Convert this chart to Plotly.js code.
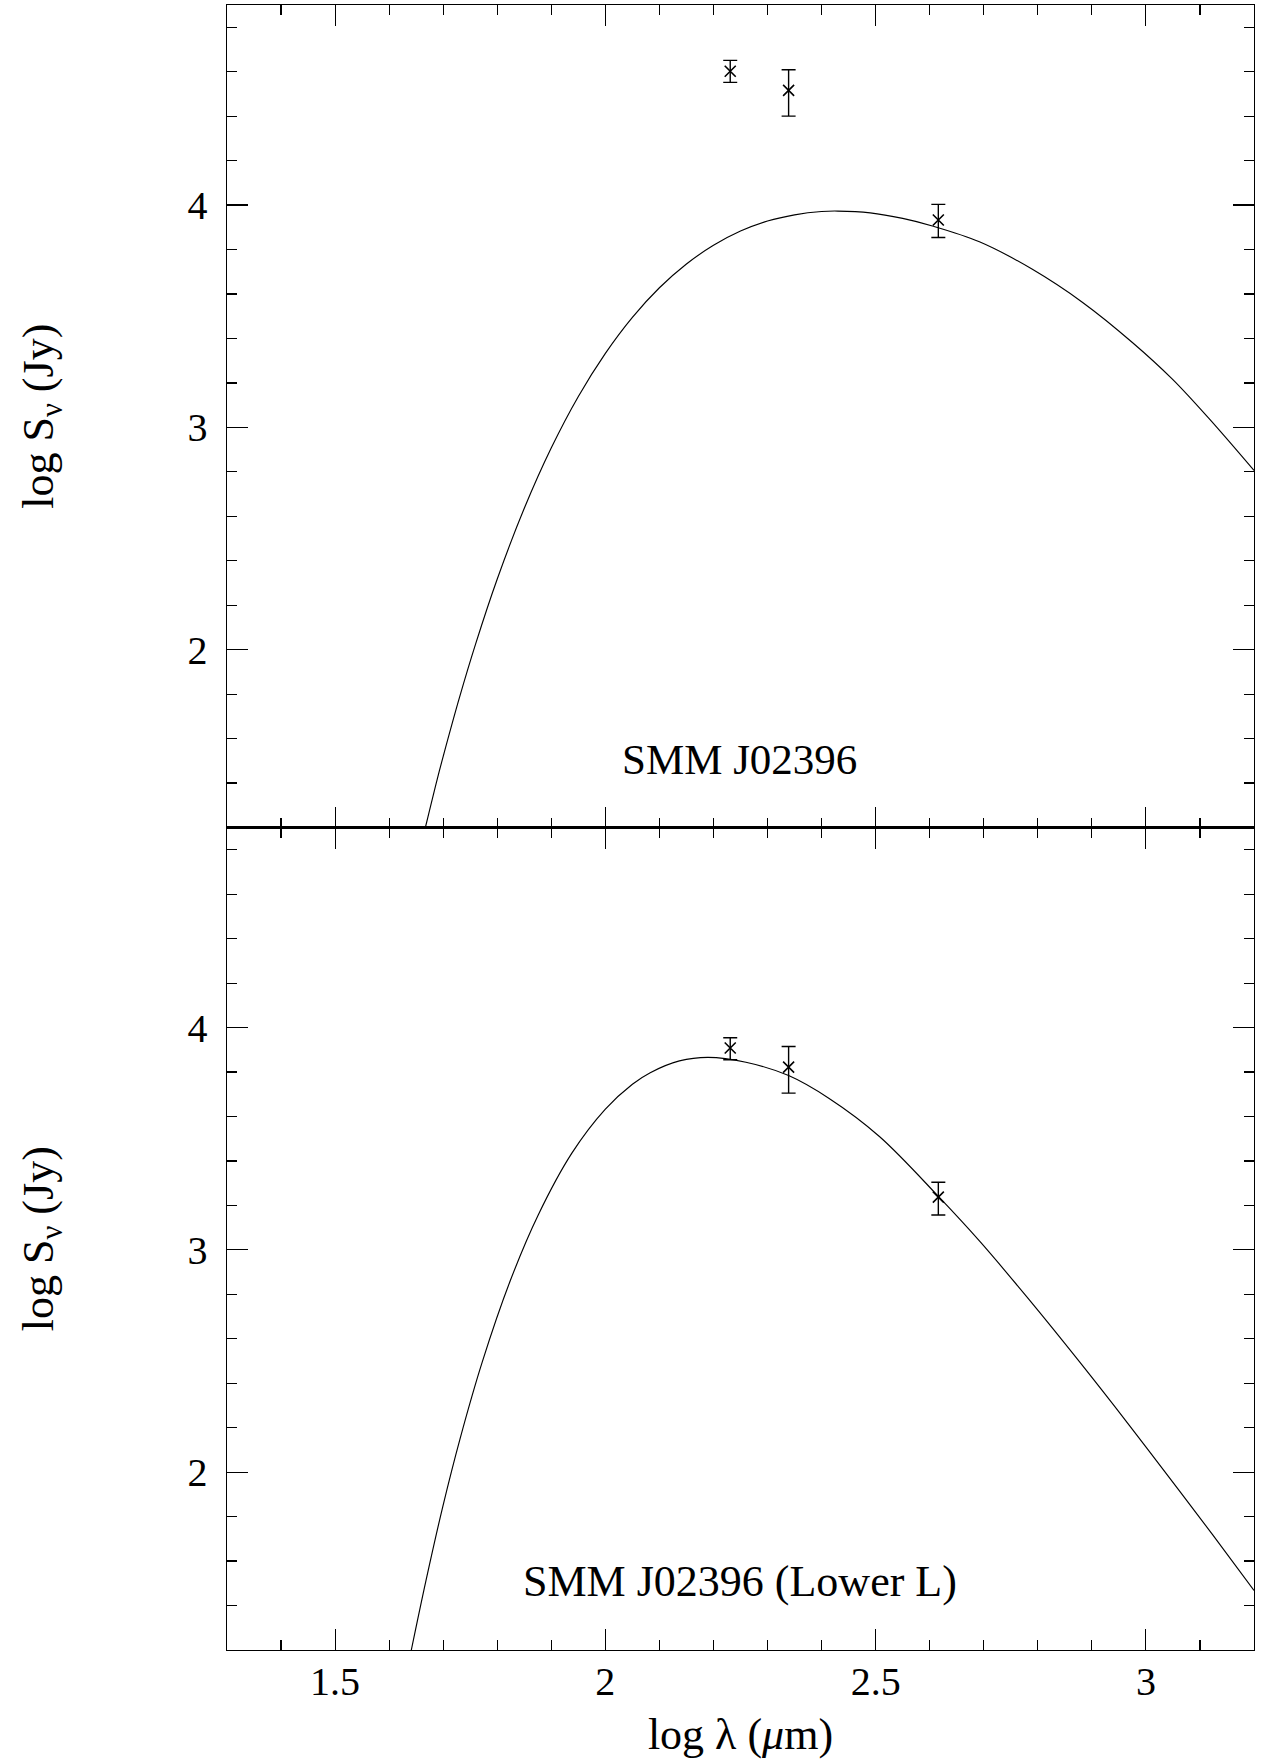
<!DOCTYPE html>
<html>
<head>
<meta charset="utf-8">
<script src="https://cdn.plot.ly/plotly-3.0.1.min.js"></script>
<style>
  html, body { margin: 0; padding: 0; background: #fff; }
  #chart { width: 1261px; height: 1759px; }
</style>
</head>
<body>
<div id="chart"></div>
<script>
// ---------- data ----------
// observed bands, log wavelength (um)
const bandLogLambda = [2.231, 2.339, 2.616];

// upper panel: SMM J02396
const upperFlux      = [4.602, 4.516, 3.933];
const upperErrPlus   = [0.049, 0.093, 0.070];
const upperErrMinus  = [0.050, 0.116, 0.079];
const upperModelX = [1.667, 1.689, 1.70, 1.73, 1.76, 1.80, 1.85, 1.90, 1.95, 2.00, 2.05, 2.10, 2.15, 2.20, 2.25, 2.30, 2.35, 2.40, 2.43, 2.49, 2.55, 2.605, 2.692, 2.79, 2.883, 2.975, 3.049, 3.117, 3.2];
const upperModelY = [1.20, 1.418, 1.52, 1.784, 2.026, 2.318, 2.636, 2.908, 3.139, 3.333, 3.495, 3.628, 3.735, 3.819, 3.883, 3.928, 3.956, 3.971, 3.973, 3.965, 3.94, 3.906, 3.835, 3.711, 3.562, 3.382, 3.217, 3.039, 2.806];

// lower panel: SMM J02396 (Lower L)
const lowerFlux      = [3.908, 3.822, 3.237];
const lowerErrPlus   = [0.046, 0.093, 0.067];
const lowerErrMinus  = [0.053, 0.117, 0.080];
const lowerModelX = [1.641, 1.668, 1.699, 1.731, 1.772, 1.824, 1.876, 1.938, 2.0, 2.05, 2.083, 2.137, 2.19, 2.26, 2.339, 2.414, 2.507, 2.617, 2.692, 2.784, 2.877, 2.969, 3.061, 3.123, 3.2];
const lowerModelY = [1.20, 1.511, 1.843, 2.149, 2.494, 2.861, 3.158, 3.435, 3.633, 3.745, 3.797, 3.850, 3.866, 3.844, 3.784, 3.681, 3.51, 3.238, 3.04, 2.776, 2.497, 2.212, 1.919, 1.720, 1.468];

const panelLabels = ['SMM J02396', 'SMM J02396 (Lower L)'];
const xTitle = 'log λ (<i>μ</i>m)';
const yTitle = 'log S<sub>ν</sub> (Jy)';

// ---------- styling ----------
const FONT = 'Liberation Serif, Times New Roman, serif';
const black = '#000';

function modelTrace(x, y, xa, ya) {
  return { x: x, y: y, xaxis: xa, yaxis: ya, type: 'scatter', mode: 'lines',
    line: { color: black, width: 1.15, shape: 'spline', smoothing: 1 }, hoverinfo: 'skip' };
}
function dataTrace(y, ep, em, xa, ya) {
  return { x: bandLogLambda, y: y, xaxis: xa, yaxis: ya, type: 'scatter', mode: 'markers',
    marker: { symbol: 'x-thin-open', size: 11, color: black, line: { color: black, width: 1.6 } },
    error_y: { type: 'data', symmetric: false, array: ep, arrayminus: em,
      color: black, thickness: 1.4, width: 7 } };
}

const traces = [
  modelTrace(upperModelX, upperModelY, 'x2', 'y2'),
  dataTrace(upperFlux, upperErrPlus, upperErrMinus, 'x2', 'y2'),
  modelTrace(lowerModelX, lowerModelY, 'x', 'y'),
  dataTrace(lowerFlux, lowerErrPlus, lowerErrMinus, 'x', 'y')
];

const common = {
  showline: true, linecolor: black, linewidth: 1.4, mirror: 'ticks',
  ticks: 'inside', ticklen: 21, tickwidth: 1.2, tickcolor: black,
  showgrid: false, zeroline: false,
  tickfont: { family: FONT, size: 40, color: black }
};
const xMinor = { ticks: 'inside', ticklen: 10, tickwidth: 1.2, tickcolor: black, dtick: 0.1, tick0: 0, showgrid: false };
const yMinor = { ticks: 'inside', ticklen: 10, tickwidth: 1.2, tickcolor: black, dtick: 0.2, tick0: 0, showgrid: false };

const layout = {
  width: 1261, height: 1759,
  margin: { l: 227, r: 7, t: 5, b: 109, pad: 0 },
  paper_bgcolor: '#fff', plot_bgcolor: '#fff',
  showlegend: false,
  font: { family: FONT, color: black },
  xaxis: Object.assign({}, common, {
    domain: [0, 1], anchor: 'y', range: [1.3, 3.2], tick0: 0, dtick: 0.5, minor: xMinor,
    ticklabelstandoff: -4,
    title: { text: xTitle, font: { family: FONT, size: 44, color: black }, standoff: 16 }
  }),
  xaxis2: Object.assign({}, common, {
    domain: [0, 1], anchor: 'y2', matches: 'x', range: [1.3, 3.2], tick0: 0, dtick: 0.5, minor: xMinor,
    showticklabels: false
  }),
  yaxis: Object.assign({}, common, {
    domain: [0, 0.5], anchor: 'x', range: [1.2, 4.9], tick0: 0, dtick: 1, minor: yMinor,
    ticklabelstandoff: 10,
    title: { text: yTitle, font: { family: FONT, size: 44, color: black }, standoff: 120 }
  }),
  yaxis2: Object.assign({}, common, {
    domain: [0.5, 1], anchor: 'x2', range: [1.2, 4.9], tick0: 0, dtick: 1, minor: yMinor,
    ticklabelstandoff: 10,
    title: { text: yTitle, font: { family: FONT, size: 44, color: black }, standoff: 120 }
  }),
  annotations: [
    { text: panelLabels[0], x: 2.249, y: 1.508, xref: 'x2', yref: 'y2', showarrow: false,
      xanchor: 'center', yanchor: 'middle', font: { family: FONT, size: 43, color: black } },
    { text: panelLabels[1], x: 2.249, y: 1.51, xref: 'x', yref: 'y', showarrow: false,
      xanchor: 'center', yanchor: 'middle', font: { family: FONT, size: 44, color: black } }
  ]
};

Plotly.newPlot('chart', traces, layout, { staticPlot: true, displayModeBar: false });
</script>
</body>
</html>
